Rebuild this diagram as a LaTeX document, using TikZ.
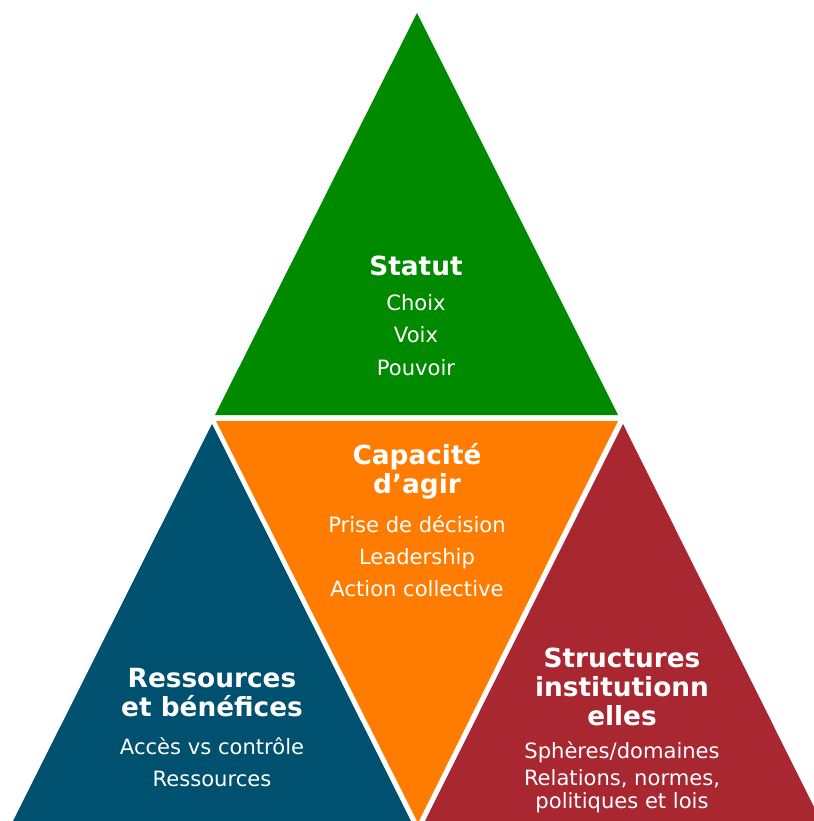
\documentclass[tikz,border=0pt]{standalone}
\usepackage{fontspec}
\setmainfont{DejaVu Sans}
\usetikzlibrary{positioning}
\definecolor{statutgreen}{HTML}{008A00}
\definecolor{agirorange}{HTML}{FF7C00}
\definecolor{ressblue}{HTML}{00506F}
\definecolor{structred}{HTML}{A82731}
\tikzstyle{piece} = [draw=none]
\tikzstyle{title} = [text=white, align=center, inner sep=0pt,
    font=\bfseries\fontsize{15}{16.5}\selectfont]
\tikzstyle{items} = [text=white, align=center, inner sep=0pt,
    font=\fontsize{12}{18.3}\selectfont]

\begin{document}
\begin{tikzpicture}[x=0.02cm, y=-0.02cm]
\useasboundingbox (0,0) rectangle (814,821);

% the four triangles
\fill [piece, statutgreen] (417,13) -- (618,415) -- (215,415) -- cycle;
\fill [piece, agirorange] (216,421) -- (618,421) -- (418,823) -- cycle;
\fill [piece, ressblue] (212,424) -- (411,821) -- (13,821) -- cycle;
\fill [piece, structred] (623,424) -- (821,821) -- (425,821) -- cycle;

% labels
\node [title] (statut) at (416,266) {Statut};
\node [items] (statutitems) at (416,335) {Choix\\Voix\\Pouvoir};

\node [title] (agir) at (417,471) {Capacité\\d’agir};
\node [items] (agiritems) at (417,556) {Prise de décision\\Leadership\\Action collective};

\node [title] (ress) at (212,693) {Ressources\\et bénéfices};
\node [items] (ressitems) at (212,762) {Accès vs contrôle\\Ressources};

\node [title] (struct) at (622,687) {Structures\\institutionn\\elles};
\node [items, font=\fontsize{12}{12.6}\selectfont] (structitems) at (622,777)
    {Sphères/domaines\\[3pt]Relations, normes,\\politiques et lois};

\end{tikzpicture}
\end{document}
